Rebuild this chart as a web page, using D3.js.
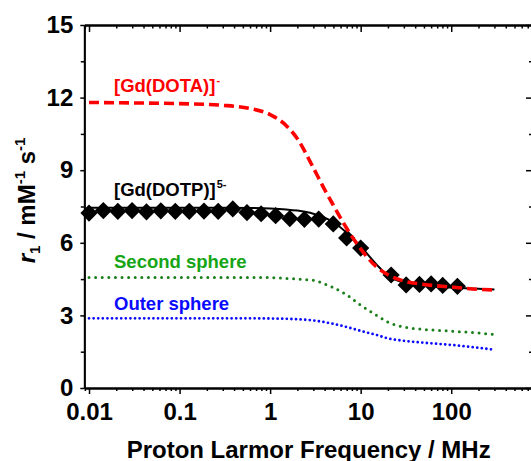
<!DOCTYPE html>
<html>
<head>
<meta charset="utf-8">
<script src="https://cdn.jsdelivr.net/npm/d3@7"></script>
<style>
  body { margin: 0; background: #fff; }
  svg { display: block; font-family: "Liberation Sans", Arial, sans-serif; }
</style>
</head>
<body>
<svg id="chart" width="531" height="461"></svg>
<script>
// measured points, [Gd(DOTP)]5-
var dotpFreq = [0.01, 0.0144, 0.0208, 0.0299, 0.0431, 0.0621, 0.0897, 0.128, 0.186, 0.267,
  0.387, 0.555, 0.796, 1.15, 1.65, 2.39, 3.44, 4.98, 7.0, 10.0, 21.7, 31.8, 44.6, 60, 80.5, 117];
var dotpR1 = [7.23, 7.33, 7.30, 7.33, 7.28, 7.32, 7.30, 7.30, 7.31, 7.30,
  7.40, 7.25, 7.2, 7.12, 7.0, 6.97, 6.98, 6.78, 6.2, 5.78, 4.67, 4.26, 4.28, 4.30, 4.24, 4.2];

// fitted / simulated curves
var curveFreq = [0.01, 0.03, 0.1, 0.3, 0.6, 1, 1.5, 2, 3, 4, 5, 7, 10, 15, 20, 30, 50, 100, 200, 300];
var dotaFit   = [11.8, 11.78, 11.75, 11.68, 11.55, 11.3, 10.85, 10.3, 9.1, 8.2, 7.55, 6.6, 5.75, 5.0, 4.68, 4.42, 4.28, 4.17, 4.08, 4.05];
var dotpFit   = [7.45, 7.45, 7.45, 7.45, 7.44, 7.42, 7.38, 7.33, 7.2, 7.04, 6.85, 6.42, 5.85, 5.1, 4.64, 4.35, 4.22, 4.15, 4.1, 4.07];
var secondSph = [4.57, 4.57, 4.57, 4.57, 4.57, 4.56, 4.53, 4.5, 4.45, 4.3, 4.15, 3.85, 3.42, 3.0, 2.72, 2.52, 2.42, 2.35, 2.27, 2.21];
var outerSph  = [2.88, 2.88, 2.88, 2.88, 2.88, 2.87, 2.86, 2.84, 2.79, 2.72, 2.65, 2.52, 2.36, 2.19, 2.05, 1.95, 1.87, 1.78, 1.66, 1.58];

var xMajor = [0.01, 0.1, 1, 10, 100];
var yMajor = [0, 3, 6, 9, 12, 15];
var yMinor = [1.5, 4.5, 7.5, 10.5, 13.5];

var svg = d3.select("#chart"),
  mLeft = 84.3, mRight = 533, mTop = 25, mBottom = 388,
  x = d3.scaleLog().domain([0.00887, 800]).range([mLeft, mRight]),
  y = d3.scaleLinear().domain([0, 15]).range([mBottom, mTop]);

var tickFont = function (g) {
  g.selectAll("text").attr("font-size", 24).attr("font-weight", "bold").attr("fill", "#000")
    .attr("font-family", "'Liberation Sans', Arial, sans-serif");
  g.selectAll("line").attr("stroke", "#000").attr("stroke-width", 1.5);
  g.select(".domain").attr("stroke", "#000").attr("stroke-width", 1.8);
};

var xMinor = x.ticks().filter(function (t) { return xMajor.indexOf(t) < 0; });

// bottom axis
svg.append("g").attr("transform", "translate(0," + mBottom + ")")
  .call(d3.axisBottom(x).tickValues(xMajor).tickFormat(d3.format("~g")).tickSize(6).tickSizeOuter(0).tickPadding(9))
  .call(tickFont);
svg.append("g").attr("transform", "translate(0," + mBottom + ")")
  .call(d3.axisBottom(x).tickValues(xMinor).tickFormat("").tickSize(3).tickSizeOuter(0))
  .call(tickFont);

// top axis (inward ticks)
svg.append("g").attr("transform", "translate(0," + mTop + ")")
  .call(d3.axisTop(x).tickValues(xMajor).tickFormat("").tickSize(-7).tickSizeOuter(0))
  .call(tickFont);
svg.append("g").attr("transform", "translate(0," + mTop + ")")
  .call(d3.axisTop(x).tickValues(xMinor).tickFormat("").tickSize(-3.5).tickSizeOuter(0))
  .call(tickFont);

// left axis
svg.append("g").attr("transform", "translate(" + mLeft + ",0)")
  .call(d3.axisLeft(y).tickValues(yMajor).tickSize(4).tickSizeOuter(0).tickPadding(7))
  .call(tickFont);
svg.append("g").attr("transform", "translate(" + mLeft + ",0)")
  .call(d3.axisLeft(y).tickValues(yMinor).tickFormat("").tickSize(3.5).tickSizeOuter(0))
  .call(tickFont);

// right axis (inward ticks)
svg.append("g").attr("transform", "translate(" + mRight + ",0)")
  .call(d3.axisRight(y).tickValues(yMajor).tickFormat("").tickSize(-7).tickSizeOuter(0))
  .call(tickFont);
svg.append("g").attr("transform", "translate(" + mRight + ",0)")
  .call(d3.axisRight(y).tickValues(yMinor).tickFormat("").tickSize(-4).tickSizeOuter(0))
  .call(tickFont);

var line = function (vals) {
  return d3.line()
    .x(function (d, i) { return x(curveFreq[i]); })
    .y(function (d) { return y(d); })
    .curve(d3.curveMonotoneX)(vals);
};

// outer sphere
svg.append("path").attr("d", line(outerSph))
  .attr("fill", "none").attr("stroke", "#0a0aff").attr("stroke-width", 2.8)
  .attr("stroke-linecap", "round").attr("stroke-dasharray", "0,4.6");
// second sphere
svg.append("path").attr("d", line(secondSph))
  .attr("fill", "none").attr("stroke", "#1a7f1a").attr("stroke-width", 3)
  .attr("stroke-linecap", "round").attr("stroke-dasharray", "0,6.6");

// measured diamonds
svg.append("g").selectAll("path")
  .data(dotpFreq)
  .join("path")
  .attr("d", "M0,-8.6L8.6,0L0,8.6L-8.6,0Z")
  .attr("transform", function (d, i) { return "translate(" + x(d) + "," + y(dotpR1[i]) + ")"; })
  .attr("fill", "#000");

// DOTP fit
svg.append("path").attr("d", line(dotpFit))
  .attr("fill", "none").attr("stroke", "#000").attr("stroke-width", 2);

// DOTA
svg.append("path").attr("d", line(dotaFit))
  .attr("fill", "none").attr("stroke", "#ff0000").attr("stroke-width", 3.6)
  .attr("stroke-dasharray", "10,5");

// labels
function label(xp, yp, color, main, sup) {
  var t = svg.append("text").attr("x", xp).attr("y", yp)
    .attr("font-size", 18.5).attr("font-weight", "bold").attr("fill", color).text(main);
  if (sup) {
    t.append("tspan").attr("font-size", 11).attr("dx", 1).attr("dy", -8).text(sup);
  }
}
label(114, 92, "#ff0000", "[Gd(DOTA)]", "-");
label(114, 196, "#000", "[Gd(DOTP)]", "5-");
label(114, 268, "#15a515", "Second sphere");
label(114, 310, "#0a0aff", "Outer sphere");

// axis titles
svg.append("text").attr("x", (mLeft + mRight) / 2).attr("y", 458)
  .attr("text-anchor", "middle").attr("font-size", 24).attr("font-weight", "bold")
  .text("Proton Larmor Frequency / MHz");

var yt = svg.append("text")
  .attr("transform", "translate(35," + ((mTop + mBottom) / 2 - 6) + ") rotate(-90)")
  .attr("text-anchor", "middle").attr("font-size", 24).attr("font-weight", "bold");
yt.append("tspan").attr("font-style", "italic").text("r");
yt.append("tspan").attr("font-size", 15).attr("dy", 5).text("1");
yt.append("tspan").attr("dy", -5).text(" / mM");
yt.append("tspan").attr("font-size", 15).attr("dy", -10).text("-1");
yt.append("tspan").attr("dy", 10).text(" s");
yt.append("tspan").attr("font-size", 15).attr("dy", -10).text("-1");
</script>
</body>
</html>
